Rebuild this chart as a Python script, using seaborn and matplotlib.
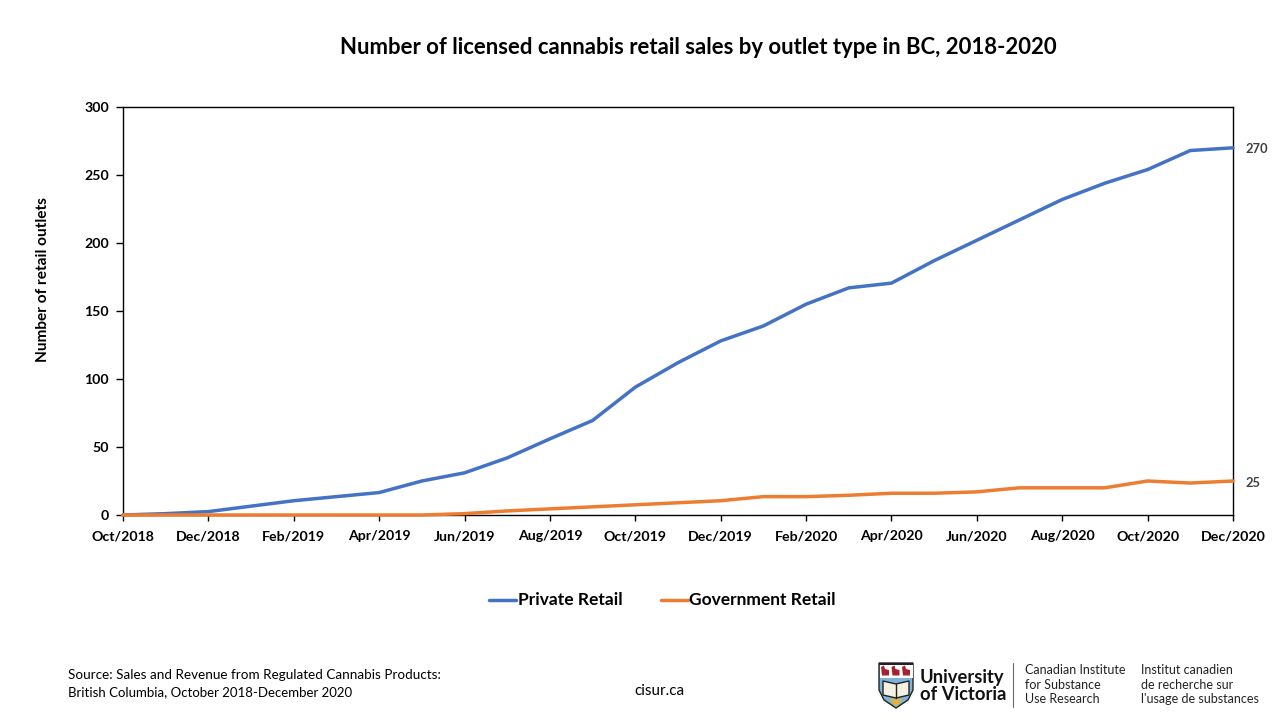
import matplotlib
matplotlib.use('Agg')
import matplotlib.pyplot as plt
from matplotlib.patches import Polygon, Rectangle
import pandas as pd
import seaborn as sns

months = ['Oct/2018', 'Nov/2018', 'Dec/2018', 'Jan/2019', 'Feb/2019', 'Mar/2019', 'Apr/2019',
          'May/2019', 'Jun/2019', 'Jul/2019', 'Aug/2019', 'Sep/2019', 'Oct/2019', 'Nov/2019',
          'Dec/2019', 'Jan/2020', 'Feb/2020', 'Mar/2020', 'Apr/2020', 'May/2020', 'Jun/2020',
          'Jul/2020', 'Aug/2020', 'Sep/2020', 'Oct/2020', 'Nov/2020', 'Dec/2020']
private_retail = [0, 1, 2.5, 6.5, 10.5, 13.5, 16.5, 25, 31, 42, 56, 69.5, 94, 112, 128, 139,
                  155, 167, 170.5, 187, 202, 217, 232, 244, 254, 268, 270]
government_retail = [0, 0, 0, 0, 0, 0, 0, 0, 1, 3, 4.5, 6, 7.5, 9, 10.5, 13.5,
                     13.5, 14.5, 16, 16, 17, 20, 20, 20, 25, 23.5, 25]
y_ticks = [0, 50, 100, 150, 200, 250, 300]

BLUE = '#4472C4'
ORANGE = '#ED7D31'
W, H = 1280, 720


def draw_logo(fig):
    # whole-figure axes in pixels, only for the footer crest
    ax = fig.add_axes([0, 0, 1, 1], zorder=-1)
    ax.set_xlim(0, W)
    ax.set_ylim(H, 0)
    ax.axis('off')
    shield = [(879, 663), (913, 663), (913, 690), (908, 700), (896, 708), (884, 700), (879, 690)]
    ax.add_patch(Polygon(shield, closed=True, fc='#7FB2D6', ec='#222222', lw=1))
    ax.add_patch(Rectangle((879.5, 663.5), 33, 14, fc='white', ec='none'))
    ax.add_patch(Rectangle((879, 663), 34, 1.5, fc='#222222', ec='none'))
    for x0 in [881, 891.5, 902]:
        ax.add_patch(Polygon([(x0, 667), (x0 + 3, 665.5), (x0 + 4, 669), (x0 + 8, 670),
                              (x0 + 8, 675.5), (x0 + 1, 675.5)], closed=True, fc='#A3232E', ec='none'))
    # open book
    ax.add_patch(Polygon([(883, 681), (896, 684), (909, 681), (909, 695), (896, 698), (883, 695)],
                         closed=True, fc='#F4F1E4', ec='#222222', lw=1))
    ax.plot([896, 896], [684, 698], color='#222222', lw=1)
    ax.add_patch(Polygon([(889, 699), (903, 699), (896, 707)], closed=True, fc='#E2B33C', ec='none'))
    # divider next to the university name
    ax.plot([1013, 1013], [663, 707], color='#666666', lw=0.8)


def main():
    sns.set_theme(style='white')
    plt.rcParams['font.family'] = ['Lato', 'DejaVu Sans']

    fig = plt.figure(figsize=(W / 100, H / 100), dpi=100)
    draw_logo(fig)
    ax = fig.add_axes([123 / W, 1 - 515 / H, (1233 - 123) / W, (515 - 107) / H])

    data = pd.DataFrame({'pos': range(len(months)),
                         'Private Retail': private_retail,
                         'Government Retail': government_retail})
    long_data = data.melt(id_vars='pos', var_name='type', value_name='outlets')
    sns.lineplot(data=long_data, x='pos', y='outlets', hue='type',
                 hue_order=['Private Retail', 'Government Retail'],
                 palette=[BLUE, ORANGE], linewidth=2.5, ax=ax, legend=False, clip_on=False, zorder=3)

    ax.set_xlim(0, len(months) - 1)
    ax.set_ylim(0, 300)
    ax.set_xticks(range(0, len(months), 2))
    ax.set_xticklabels(months[::2], fontsize=10.2, fontweight='bold', color='black')
    ax.set_yticks(y_ticks)
    ax.set_yticklabels(y_ticks, fontsize=10.2, fontweight='bold', color='black')
    ax.tick_params(axis='x', direction='out', length=4, width=1, color='black', bottom=True, pad=7)
    ax.tick_params(axis='y', direction='out', length=5, width=1, color='black', left=True, pad=5)
    ax.set_xlabel('')
    ax.set_ylabel('')
    for spine in ax.spines.values():
        spine.set_color('black')
        spine.set_linewidth(1)

    # end labels
    ax.annotate(str(private_retail[-1]), (len(months) - 1, private_retail[-1]), xytext=(9, -0.7),
                textcoords='offset points', va='center', fontsize=9.3, fontweight='bold', color='#404040')
    ax.annotate(str(government_retail[-1]), (len(months) - 1, government_retail[-1]), xytext=(9, -1.5),
                textcoords='offset points', va='center', fontsize=9.3, fontweight='bold', color='#404040')

    fig.text(698 / W, 1 - 48 / H, 'Number of licensed cannabis retail sales by outlet type in BC, 2018-2020',
             ha='center', va='center', fontsize=15.9, fontweight='bold', color='black')
    fig.text(43 / W, 1 - 280 / H, 'Number of retail outlets', rotation=90, ha='center', va='center',
             fontsize=11.1, fontweight='bold', color='black')

    # legend drawn by hand so it sits where the original does
    fig.add_artist(plt.Line2D([489 / W, 516 / W], [1 - 600 / H] * 2, color=BLUE, lw=2.5))
    fig.text(518 / W, 1 - 600 / H, 'Private Retail', va='center', fontsize=12.5, fontweight='bold', color='black')
    fig.add_artist(plt.Line2D([661 / W, 688 / W], [1 - 600 / H] * 2, color=ORANGE, lw=2.5))
    fig.text(689 / W, 1 - 600 / H, 'Government Retail', va='center', fontsize=12.5, fontweight='bold', color='black')

    # footer
    fig.text(68 / W, 1 - 675 / H, 'Source: Sales and Revenue from Regulated Cannabis Products:',
             va='center', fontsize=9.75, color='black')
    fig.text(68 / W, 1 - 692 / H, 'British Columbia, October 2018-December 2020',
             va='center', fontsize=9.5, color='black')
    fig.text(659 / W, 1 - 691 / H, 'cisur.ca', ha='center', va='center', fontsize=11, color='black')
    fig.text(920 / W, 1 - 677 / H, 'University', va='center', fontsize=13.2, fontweight='bold', color='#111111')
    fig.text(920 / W, 1 - 694 / H, 'of Victoria', va='center', fontsize=13.2, fontweight='bold', color='#111111')
    for y, line in zip([670, 685, 699], ['Canadian Institute', 'for Substance', 'Use Research']):
        fig.text(1025 / W, 1 - y / H, line, va='center', fontsize=9, color='#222222')
    for y, line in zip([670, 685, 699], ['Institut canadien', 'de recherche sur', "l'usage de substances"]):
        fig.text(1141 / W, 1 - y / H, line, va='center', fontsize=9, color='#222222')

    fig.savefig('out.png', dpi=100)


if __name__ == '__main__':
    main()
